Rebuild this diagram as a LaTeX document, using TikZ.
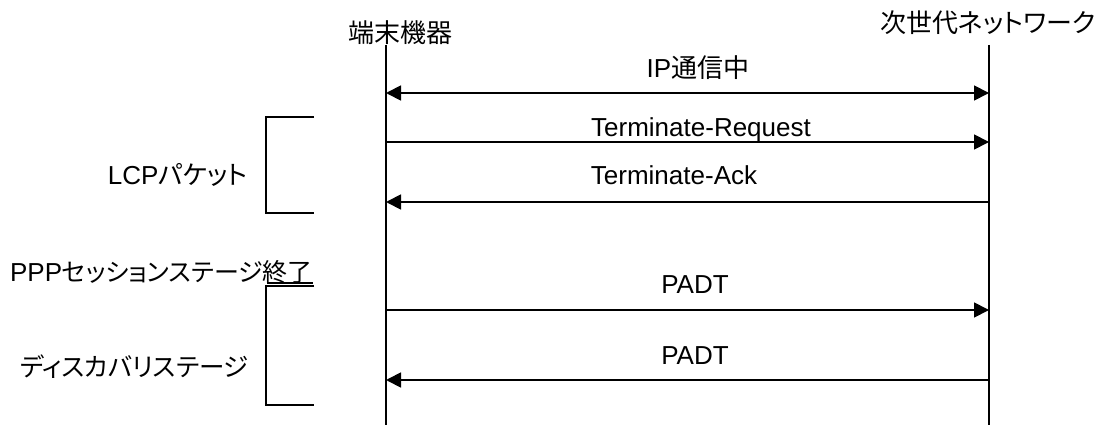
\documentclass[tikz,border=0pt]{standalone}
\usepackage{fontspec}
\setmainfont{Liberation Sans}
\newfontfamily\jp[RawFeature=+palt]{Noto Sans CJK JP}
\usetikzlibrary{arrows.meta}
\begin{document}
\begin{tikzpicture}[x=1pt,y=-1pt,
  life/.style={line width=1.8pt},
  msg/.style={line width=1.8pt,-{Triangle[length=15pt,width=15pt]}},
  dmsg/.style={line width=1.8pt,{Triangle[length=15pt,width=15pt]}-{Triangle[length=15pt,width=15pt]}},
  brk/.style={line width=1.5pt},
  lbl/.style={inner sep=0pt,anchor=base,font=\fontsize{26}{30}\selectfont}]
\useasboundingbox (0,0) rectangle (1098,425);
% lifelines
\coordinate (Ltop) at (386,45); \coordinate (Lbot) at (386,425);
\coordinate (Rtop) at (989,45); \coordinate (Rbot) at (989,425);
\draw[life] (Ltop) -- (Lbot);
\draw[life] (Rtop) -- (Rbot);
\node[lbl] (hL) at (400,43) {\jp 端末機器};
\node[lbl,anchor=base east] (hR) at (1096,33) {\jp 次世代ネットワーク};
% messages
\coordinate (a1) at (386,93);  \coordinate (b1) at (989,93);
\coordinate (a2) at (386,142); \coordinate (b2) at (989,142);
\coordinate (a3) at (386,202); \coordinate (b3) at (989,202);
\coordinate (a4) at (386,310); \coordinate (b4) at (989,310);
\coordinate (a5) at (386,380); \coordinate (b5) at (989,380);
\draw[dmsg] (a1) -- (b1);
\draw[msg] (a2) -- (b2);
\draw[msg] (b3) -- (a3);
\draw[msg] (a4) -- (b4);
\draw[msg] (b5) -- (a5);
\node[lbl] (m1) at (698,78) {IP{\jp 通信中}};
\node[lbl] (m2) at (701,137) {Terminate-Request};
\node[lbl] (m3) at (674,185) {Terminate-Ack};
\node[lbl] (m4) at (695,293) {PADT};
\node[lbl] (m5) at (695,364) {PADT};
% brackets
\coordinate (c1) at (314,117); \coordinate (c2) at (314,213);
\draw[brk] (c1) -- (266,117) -- (266,213) -- (c2);
\coordinate (c3) at (314,286); \coordinate (c4) at (314,405);
\draw[brk] (c3) -- (266,286) -- (266,405) -- (c4);
\coordinate (u1) at (267,283); \coordinate (u2) at (313,283);
\draw[line width=1.3pt] (u1) -- (u2);
% side labels
\node[lbl,anchor=base east] (s1) at (248,185) {LCP{\jp パケット}};
\node[lbl,anchor=base east] (s2) at (313,281) {PPP{\jp\fontsize{25}{30}\selectfont セッションステージ終了}};
\node[lbl,anchor=base east] (s3) at (249,376) {\jp\fontsize{25.5}{30}\selectfont ディスカバリステージ};
\end{tikzpicture}
\end{document}
